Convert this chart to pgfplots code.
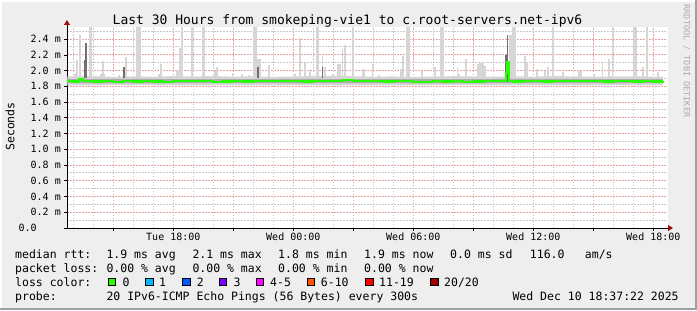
\documentclass[border=0pt]{standalone}
\usepackage{pgfplots}
\pgfplotsset{compat=1.18}
\usepackage{pgfplotstable}
\usetikzlibrary{arrows.meta}
\usepackage{fontspec}
\setmainfont{DejaVu Sans Mono}
\definecolor{bg}{HTML}{EEEEEE}
\definecolor{mgrid}{HTML}{E8A2A2}
\definecolor{sgrid}{HTML}{CACACA}
\definecolor{arrowred}{HTML}{A01010}
\definecolor{smokeL}{HTML}{D6D6D6}
\definecolor{smokeM}{HTML}{ADADAD}
\definecolor{smokeD}{HTML}{707070}
\definecolor{lc0}{HTML}{26FF00}
\definecolor{lc1}{HTML}{00B8FF}
\definecolor{lc2}{HTML}{0059FF}
\definecolor{lc3}{HTML}{7E00FF}
\definecolor{lc4}{HTML}{FF00FF}
\definecolor{lc6}{HTML}{FF5500}
\definecolor{lc11}{HTML}{FF0000}
\definecolor{lc20}{HTML}{A10000}
\definecolor{rrdgrey}{HTML}{ABABAB}

% light smoke spikes: hour (from Tue 00:00), lower, upper (ms)
\pgfplotstableread{
h lo hi
13.085 1.90 1.96
13.20 1.90 2.13
13.335 1.90 2.45
13.81 1.90 2.56
13.89 1.90 2.56
14.40 1.90 1.96
14.47 1.90 2.12
14.55 1.90 1.96
15.30 1.90 1.94
15.635 1.90 2.17
16.20 1.90 2.56
16.28 1.90 2.56
16.36 1.90 2.56
17.30 1.90 1.96
17.37 1.90 2.08
18.20 1.90 2.00
18.27 1.90 2.00
18.335 1.90 2.29
18.45 1.90 2.56
18.935 1.90 2.56
19.46 1.90 2.56
19.54 1.90 2.56
20.10 1.90 2.00
20.17 1.90 2.05
20.96 1.90 1.97
21.42 1.90 1.96
21.80 1.90 1.94
22.04 1.90 2.56
22.12 1.90 2.56
22.25 1.90 2.15
22.33 1.90 2.15
22.80 1.90 2.07
24.08 1.90 1.96
24.335 1.90 2.42
24.585 1.90 2.10
24.84 1.90 2.00
25.17 1.90 2.56
25.25 1.90 2.56
25.46 1.90 2.19
25.60 1.90 2.04
26.00 1.90 1.96
26.25 1.90 2.09
26.335 1.90 2.09
26.46 1.90 2.27
26.585 1.90 2.32
27.00 1.90 2.56
27.46 1.90 2.02
27.54 1.90 2.02
27.96 1.90 2.08
28.30 1.90 1.94
29.385 1.90 2.02
29.50 1.90 2.19
29.70 1.90 2.56
29.78 1.90 2.56
30.42 1.90 2.00
31.085 1.90 2.05
31.40 1.90 2.56
31.48 1.90 2.56
32.21 1.90 2.04
32.30 1.90 1.96
32.62 1.90 2.15
33.25 1.90 2.08
33.34 1.90 2.10
33.42 1.90 2.11
33.50 1.90 2.10
33.59 1.90 2.06
34.835 1.90 2.45
34.92 1.90 2.45
35.00 1.90 2.56
35.08 1.90 2.56
35.585 1.90 2.19
35.67 1.90 2.10
36.20 1.90 2.02
36.60 1.90 2.00
36.735 1.90 2.05
36.97 1.90 2.56
37.50 1.90 1.98
38.30 1.90 2.00
38.38 1.90 2.00
39.05 1.90 1.96
39.46 1.90 2.10
39.785 1.90 2.15
39.96 1.90 2.56
41.04 1.90 2.56
41.12 1.90 2.56
41.50 1.90 2.04
41.685 1.90 2.56
42.23 1.90 1.98
}\spikes

% darker smoke spikes
\pgfplotstableread{
h lo hi
13.585 1.90 2.13
13.635 1.90 2.35
15.52 1.90 2.05
22.25 1.90 2.05
25.46 1.90 2.05
34.63 1.86 2.20
34.71 1.86 2.45
}\darkspikes

% median rtt (ms)
\pgfplotstableread{
h med
12.70 1.865
13.00 1.862
13.30 1.888
13.50 1.872
14.00 1.862
14.50 1.866
15.00 1.860
15.50 1.868
16.00 1.862
16.50 1.865
17.00 1.862
17.50 1.858
18.00 1.865
18.50 1.872
19.00 1.864
19.50 1.866
20.00 1.860
20.50 1.862
21.00 1.866
21.50 1.862
22.00 1.865
22.50 1.870
23.00 1.866
23.50 1.864
24.00 1.866
24.50 1.862
25.00 1.868
25.50 1.864
26.00 1.870
26.50 1.880
26.80 1.885
27.00 1.872
27.50 1.866
28.00 1.864
28.50 1.862
29.00 1.866
29.50 1.868
30.00 1.858
30.50 1.860
31.00 1.865
31.50 1.862
32.00 1.866
32.50 1.860
33.00 1.862
33.50 1.866
34.00 1.864
34.55 1.866
34.63 1.970
34.71 2.110
34.79 1.870
35.00 1.862
35.50 1.866
36.00 1.864
36.50 1.862
37.00 1.870
37.50 1.866
38.00 1.864
38.50 1.872
39.00 1.866
39.50 1.862
40.00 1.866
40.50 1.864
41.00 1.862
41.50 1.868
42.00 1.862
42.48 1.865
}\median

\begin{document}
\begin{tikzpicture}[x=1bp,y=1bp]
\fill[bg] (0,0) rectangle (697,310);
\draw[white, line width=2bp] (1,0) -- (1,309) -- (697,309);
\draw[gray!75, line width=2bp] (0,1) -- (696,1) -- (696,310);
\fill[white] (67,82) rectangle (668,283);

\begin{axis}[
  at={(67bp,82bp)}, anchor=south west,
  scale only axis, width=600bp, height=201bp,
  xmin=12.685, xmax=42.685, ymin=0, ymax=2.554,
  axis lines=left,
  axis line style={line width=0.8bp, black},
  x axis line style={-{Triangle[length=5bp,width=6bp,color=arrowred]}, shorten >=-6bp, shorten <=-3.5bp},
  y axis line style={-{Triangle[length=5bp,width=6bp,color=arrowred]}, shorten >=-7bp},
  xtick={15,18,...,42},
  xticklabels={,Tue 18:00,,Wed 00:00,,Wed 06:00,,Wed 12:00,,Wed 18:00},
  minor xtick={13,14,...,42},
  ytick={0,0.2,...,2.41},
  yticklabels={0.0\phantom{0000},0.2 m,0.4 m,0.6 m,0.8 m,1.0 m,1.2 m,1.4 m,1.6 m,1.8 m,2.0 m,2.2 m,2.4 m},
  minor ytick={0.1,0.3,...,2.55},
  grid=both,
  major grid style={draw=mgrid, dash pattern=on 1.5bp off 1.5bp, line width=1bp},
  minor grid style={draw=sgrid, dash pattern=on 1.5bp off 1.5bp, line width=1bp},
  tick align=outside, major tick length=3bp, minor tick length=0pt,
  major tick style={black, line width=0.7bp},
  xticklabel style={font=\fontsize{10bp}{12bp}\selectfont, anchor=base, inner sep=0pt, yshift=-9bp},
  yticklabel style={font=\fontsize{10bp}{12bp}\selectfont, anchor=east, inner sep=0pt, xshift=-3bp},
]
% base smoke band (light)
\addplot[fill=smokeL, draw=none, forget plot] coordinates {
 (12.70,1.925) (14,1.930) (15,1.920) (16,1.928) (17,1.922) (18,1.930) (19,1.925) (20,1.932) (21,1.922)
 (22,1.928) (23,1.920) (24,1.926) (25,1.930) (26,1.935) (27,1.928) (28,1.922) (29,1.926) (30,1.920)
 (31,1.924) (32,1.930) (33,1.926) (34,1.922) (35,1.928) (36,1.924) (37,1.930) (38,1.926) (39,1.922)
 (40,1.926) (41,1.928) (42,1.924) (42.48,1.925)
 (42.48,1.812) (40,1.814) (36,1.812) (32,1.815) (28,1.811) (24,1.814) (20,1.811) (16,1.815) (12.70,1.812)} -- cycle;
% base smoke band (mid)
\addplot[fill=smokeM, draw=none, forget plot] coordinates {
 (12.70,1.892) (16,1.895) (20,1.890) (24,1.894) (28,1.892) (32,1.891) (36,1.895) (40,1.892) (42.48,1.893)
 (42.48,1.840) (40,1.839) (36,1.841) (32,1.838) (28,1.840) (24,1.839) (20,1.841) (16,1.838) (12.70,1.840)} -- cycle;
% smoke spikes
\addplot[draw=none, mark=none, forget plot,
  error bars/.cd, y dir=plus, y explicit, error mark=none,
  error bar style={draw=smokeL, line width=1.7bp}]
  table[x=h, y=lo, y error expr=\thisrow{hi}-\thisrow{lo}] {\spikes};
\addplot[draw=none, mark=none, forget plot,
  error bars/.cd, y dir=plus, y explicit, error mark=none,
  error bar style={draw=smokeD, line width=1.7bp}]
  table[x=h, y=lo, y error expr=\thisrow{hi}-\thisrow{lo}] {\darkspikes};
% median
\addplot[lc0, line width=2.2bp, const plot, mark=none] table[x=h, y=med] {\median};
\end{axis}

% title and side texts
\node[anchor=base, inner sep=0pt, font=\fontsize{13bp}{15bp}\selectfont] at (347.5,285.5)
  {Last 30 Hours from smokeping-vie1 to c.root-servers.net-ipv6};
\node[rotate=90, inner sep=0pt, font=\fontsize{11.5bp}{13bp}\selectfont] at (10,183.5) {Seconds};
\node[rotate=-90, inner sep=0pt, text=rrdgrey, font=\fontsize{8.5bp}{10bp}\selectfont] at (686.7,249) {RRDTOOL / TOBI OETIKER};

% legend
\begin{scope}[every node/.style={anchor=base west, inner sep=0pt, font=\fontsize{11.5bp}{13bp}\selectfont}]
\node at (15,51.7) {median rtt:};
\node at (106.3,51.7) {1.9 ms avg};
\node at (192.3,51.7) {2.1 ms max};
\node at (278,51.7) {1.8 ms min};
\node at (364,51.7) {1.9 ms now};
\node at (450,51.7) {0.0 ms sd};
\node at (529.7,51.7) {116.0};
\node at (584.7,51.7) {am/s};
\node at (15,37.8) {packet loss:};
\node at (106.3,37.8) {0.00 \% avg};
\node at (192.3,37.8) {0.00 \% max};
\node at (278,37.8) {0.00 \% min};
\node at (364,37.8) {0.00 \% now};
\node at (15,23.9) {loss color:};
\node at (122.3,23.9) {0};
\node at (159,23.9) {1};
\node at (196.7,23.9) {2};
\node at (233.3,23.9) {3};
\node at (270,23.9) {4-5};
\node at (320.7,23.9) {6-10};
\node at (379,23.9) {11-19};
\node at (444,23.9) {20/20};
\node at (15,10) {probe:};
\node at (106.3,10) {20 IPv6-ICMP Echo Pings (56 Bytes) every 300s};
\node at (512.3,10) {Wed Dec 10 18:37:22 2025};
\end{scope}
\begin{scope}[line width=0.8bp]
\filldraw[fill=lc0, draw=black] (108.3,24.3) rectangle ++(7.4,7.4);
\filldraw[fill=lc1, draw=black] (145.7,24.3) rectangle ++(7.4,7.4);
\filldraw[fill=lc2, draw=black] (182.7,24.3) rectangle ++(7.4,7.4);
\filldraw[fill=lc3, draw=black] (219.3,24.3) rectangle ++(7.4,7.4);
\filldraw[fill=lc4, draw=black] (256,24.3) rectangle ++(7.4,7.4);
\filldraw[fill=lc6, draw=black] (307.3,24.3) rectangle ++(7.4,7.4);
\filldraw[fill=lc11, draw=black] (365.7,24.3) rectangle ++(7.4,7.4);
\filldraw[fill=lc20, draw=black] (430.7,24.3) rectangle ++(7.4,7.4);
\end{scope}
\pgfresetboundingbox
\useasboundingbox (0,0) rectangle (697,310);
\end{tikzpicture}
\end{document}
